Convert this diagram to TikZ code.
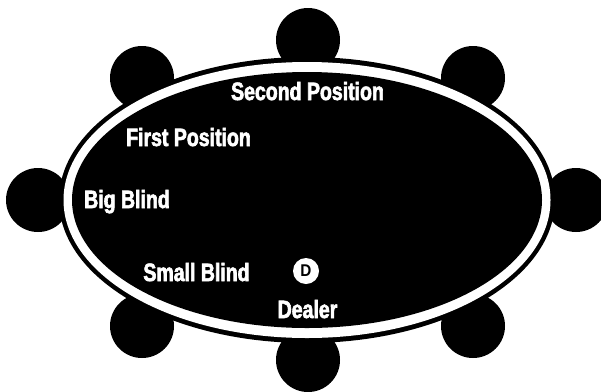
\documentclass[tikz,border=0pt]{standalone}
\usepackage{fontspec}
\setmainfont{Liberation Sans}
\newfontfamily\heavyfont{Liberation Sans Bold}[FakeStretch=0.78,FakeBold=2.5]
\newfontfamily\btnfont{Liberation Sans Bold}[FakeStretch=0.9]
\begin{document}
\begin{tikzpicture}[x=1pt,y=-1pt,
  seat/.style={fill=black},
  lbl/.style={text=white,font=\fontsize{25}{26}\heavyfont,anchor=base,inner sep=0pt}]
\useasboundingbox (0,0) rectangle (601,391);
\clip (0,0) rectangle (601,391);
% seats
\foreach \n/\x/\y in {s1/308/40, s2/142/78, s3/473/78, s4/38/200, s5/576/200, s6/142/326, s7/473/326, s8/308/360}
  \fill[seat] (\x,\y) circle[radius=32];
% table
\fill[black] (307,200) ellipse[x radius=248, y radius=143];
\fill[white] (307,200) ellipse[x radius=243.5, y radius=138];
\fill[black] (307,200) ellipse[x radius=235, y radius=128];
% labels
\node[lbl] (sp) at (307.5,100) {Second Position};
\node[lbl] (fp) at (188.5,146) {First Position};
\node[lbl] (bb) at (127,208) {Big Blind};
\node[lbl] (sb) at (196.5,281) {Small Blind};
\node[lbl] (dl) at (307.5,318) {Dealer};
\node[circle,fill=white,minimum size=26pt,inner sep=0pt,font=\fontsize{17}{17}\btnfont] (btn) at (306,271) {D};
\end{tikzpicture}
\end{document}
